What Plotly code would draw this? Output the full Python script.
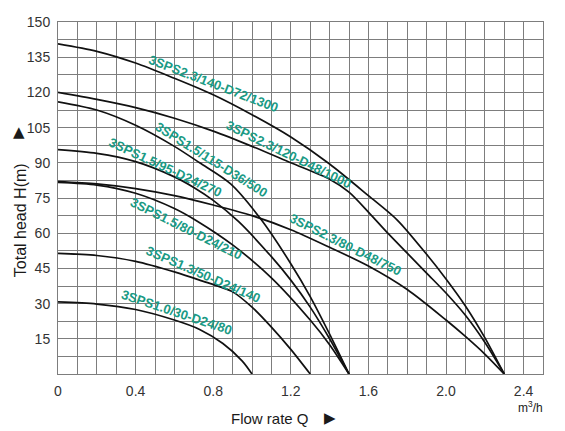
import plotly.graph_objects as go

# Flow rate Q (m³/h) and total head H (m)
q_23_140 = [0, 0.2, 0.4, 0.6, 0.8, 1.0, 1.2, 1.4, 1.6, 1.75, 1.9, 2.0, 2.1, 2.2, 2.3]
h_23_140 = [140.7, 137.5, 132.5, 126, 119, 110.5, 101, 89.5, 76, 65.5, 51, 40.5, 29, 15.5, 0]

q_23_120 = [0, 0.2, 0.4, 0.6, 0.8, 1.0, 1.2, 1.4, 1.5, 1.6, 1.7, 1.8, 1.9, 2.0, 2.1, 2.2, 2.3]
h_23_120 = [120, 117, 113.5, 109, 103.5, 97, 90, 83, 77.5, 69, 60, 51.5, 43, 34.5, 25, 13.5, 0]

q_23_80 = [0, 0.2, 0.4, 0.6, 0.8, 1.0, 1.2, 1.4, 1.6, 1.8, 2.0, 2.1, 2.2, 2.3]
h_23_80 = [82, 81, 79, 76, 72, 67.5, 61.5, 54, 46, 36, 23, 16, 8.5, 0]

q_15_115 = [0, 0.2, 0.4, 0.6, 0.73, 0.89, 1.05, 1.2, 1.3, 1.4, 1.5]
h_15_115 = [116, 112.5, 106, 97, 90, 81, 65.5, 47, 33, 17, 0]

q_15_95 = [0, 0.2, 0.4, 0.6, 0.7, 0.8, 0.93, 1.1, 1.2, 1.3, 1.4, 1.5]
h_15_95 = [95.6, 94, 90.5, 84, 79.5, 74, 65, 50, 40, 28.5, 15, 0]

q_15_80 = [0, 0.2, 0.4, 0.6, 0.72, 0.9, 1.1, 1.3, 1.4, 1.5]
h_15_80 = [81.6, 80.5, 77, 70.5, 65, 55, 41, 23, 12.5, 0]

q_13_50 = [0, 0.2, 0.4, 0.6, 0.73, 0.9, 1.0, 1.1, 1.2, 1.3]
h_13_50 = [51.4, 50.5, 48, 43.5, 40, 35, 28.5, 20, 10.5, 0]

q_10_30 = [0, 0.2, 0.4, 0.6, 0.73, 0.85, 0.95, 1.0]
h_10_30 = [30.7, 29.8, 27.5, 23, 19, 13, 5.5, 0]

curves = [
    (q_23_140, h_23_140), (q_23_120, h_23_120), (q_23_80, h_23_80),
    (q_15_115, h_15_115), (q_15_95, h_15_95), (q_15_80, h_15_80),
    (q_13_50, h_13_50), (q_10_30, h_10_30),
]

# model labels: text, position (Q, H) and angle along the curve
label_text = ["3SPS2.3/140-D72/1300", "3SPS2.3/120-D48/1000", "3SPS2.3/80-D48/750",
              "3SPS1.5/115-D36/500", "3SPS1.5/95-D24/270", "3SPS1.5/80-D24/210",
              "3SPS1.3/50-D24/140", "3SPS1.0/30-D24/80"]
label_q = [0.80, 1.19, 1.48, 0.79, 0.555, 0.66, 0.75, 0.615]
label_h = [124.0, 93.5, 55.2, 91.6, 88.1, 62.1, 42.6, 26.3]
label_angle = [21, 26, 26.5, 32, 25, 26.5, 23.5, 18.5]

x_ticks = [0, 0.4, 0.8, 1.2, 1.6, 2.0, 2.4]
x_ticktext = ["0", "0.4", "0.8", "1.2", "1.6", "2.0", "2.4"]
y_ticks = [15, 30, 45, 60, 75, 90, 105, 120, 135, 150]

FONT = "Arial, Liberation Sans, sans-serif"
GRID = "#7d7d7d"
TEAL = "#1a9a84"

fig = go.Figure()
for q, h in curves:
    fig.add_trace(go.Scatter(
        x=q, y=h, mode="lines", showlegend=False, hoverinfo="skip",
        line={"color": "#111111", "width": 1.7, "shape": "spline", "smoothing": 0.8},
    ))

for txt, q, h, ang in zip(label_text, label_q, label_h, label_angle):
    fig.add_annotation(x=q, y=h, text=f"<b>{txt}</b>", showarrow=False,
                       textangle=ang, xanchor="center", yanchor="middle",
                       font={"family": FONT, "size": 13, "color": TEAL})


def caption(x, y, text, size, family=FONT, angle=0):
    fig.add_annotation(xref="paper", yref="paper", x=x, y=y, text=text,
                       showarrow=False, textangle=angle,
                       xanchor="center", yanchor="middle",
                       font={"family": family, "size": size, "color": "#1a1a1a"})


# axis captions
caption(0.437, -0.125, "Flow rate Q", 15)
caption(0.561, -0.125, "▶", 15, "DejaVu Sans")
caption(0.975, -0.094, "m<sup>3</sup>/h", 12)
caption(-0.078, 0.4375, "Total head H(m)", 16, angle=-90)
caption(-0.08, 0.6875, "▲", 15, "DejaVu Sans")

fig.update_layout(
    width=565, height=431,
    margin={"l": 58, "r": 22, "t": 22, "b": 57},
    paper_bgcolor="white", plot_bgcolor="white",
    xaxis={"range": [0, 2.5], "tickvals": x_ticks, "ticktext": x_ticktext,
           "showgrid": True, "gridcolor": GRID, "gridwidth": 1,
           "minor": {"dtick": 0.1, "showgrid": True, "gridcolor": GRID, "gridwidth": 1},
           "showline": True, "linecolor": GRID, "mirror": True, "zeroline": False,
           "ticks": "", "ticklabelstandoff": 4,
           "tickfont": {"family": FONT, "size": 14, "color": "#333"}},
    yaxis={"range": [0, 150], "tickvals": y_ticks,
           "showgrid": True, "gridcolor": GRID, "gridwidth": 1,
           "minor": {"dtick": 7.5, "showgrid": True, "gridcolor": GRID, "gridwidth": 1},
           "showline": True, "linecolor": GRID, "mirror": True, "zeroline": False,
           "ticks": "", "ticklabelstandoff": 4,
           "tickfont": {"family": FONT, "size": 14, "color": "#333"}},
)

fig.write_html("out.html", config={"displayModeBar": False},
               post_script="document.body.style.margin='0';")
